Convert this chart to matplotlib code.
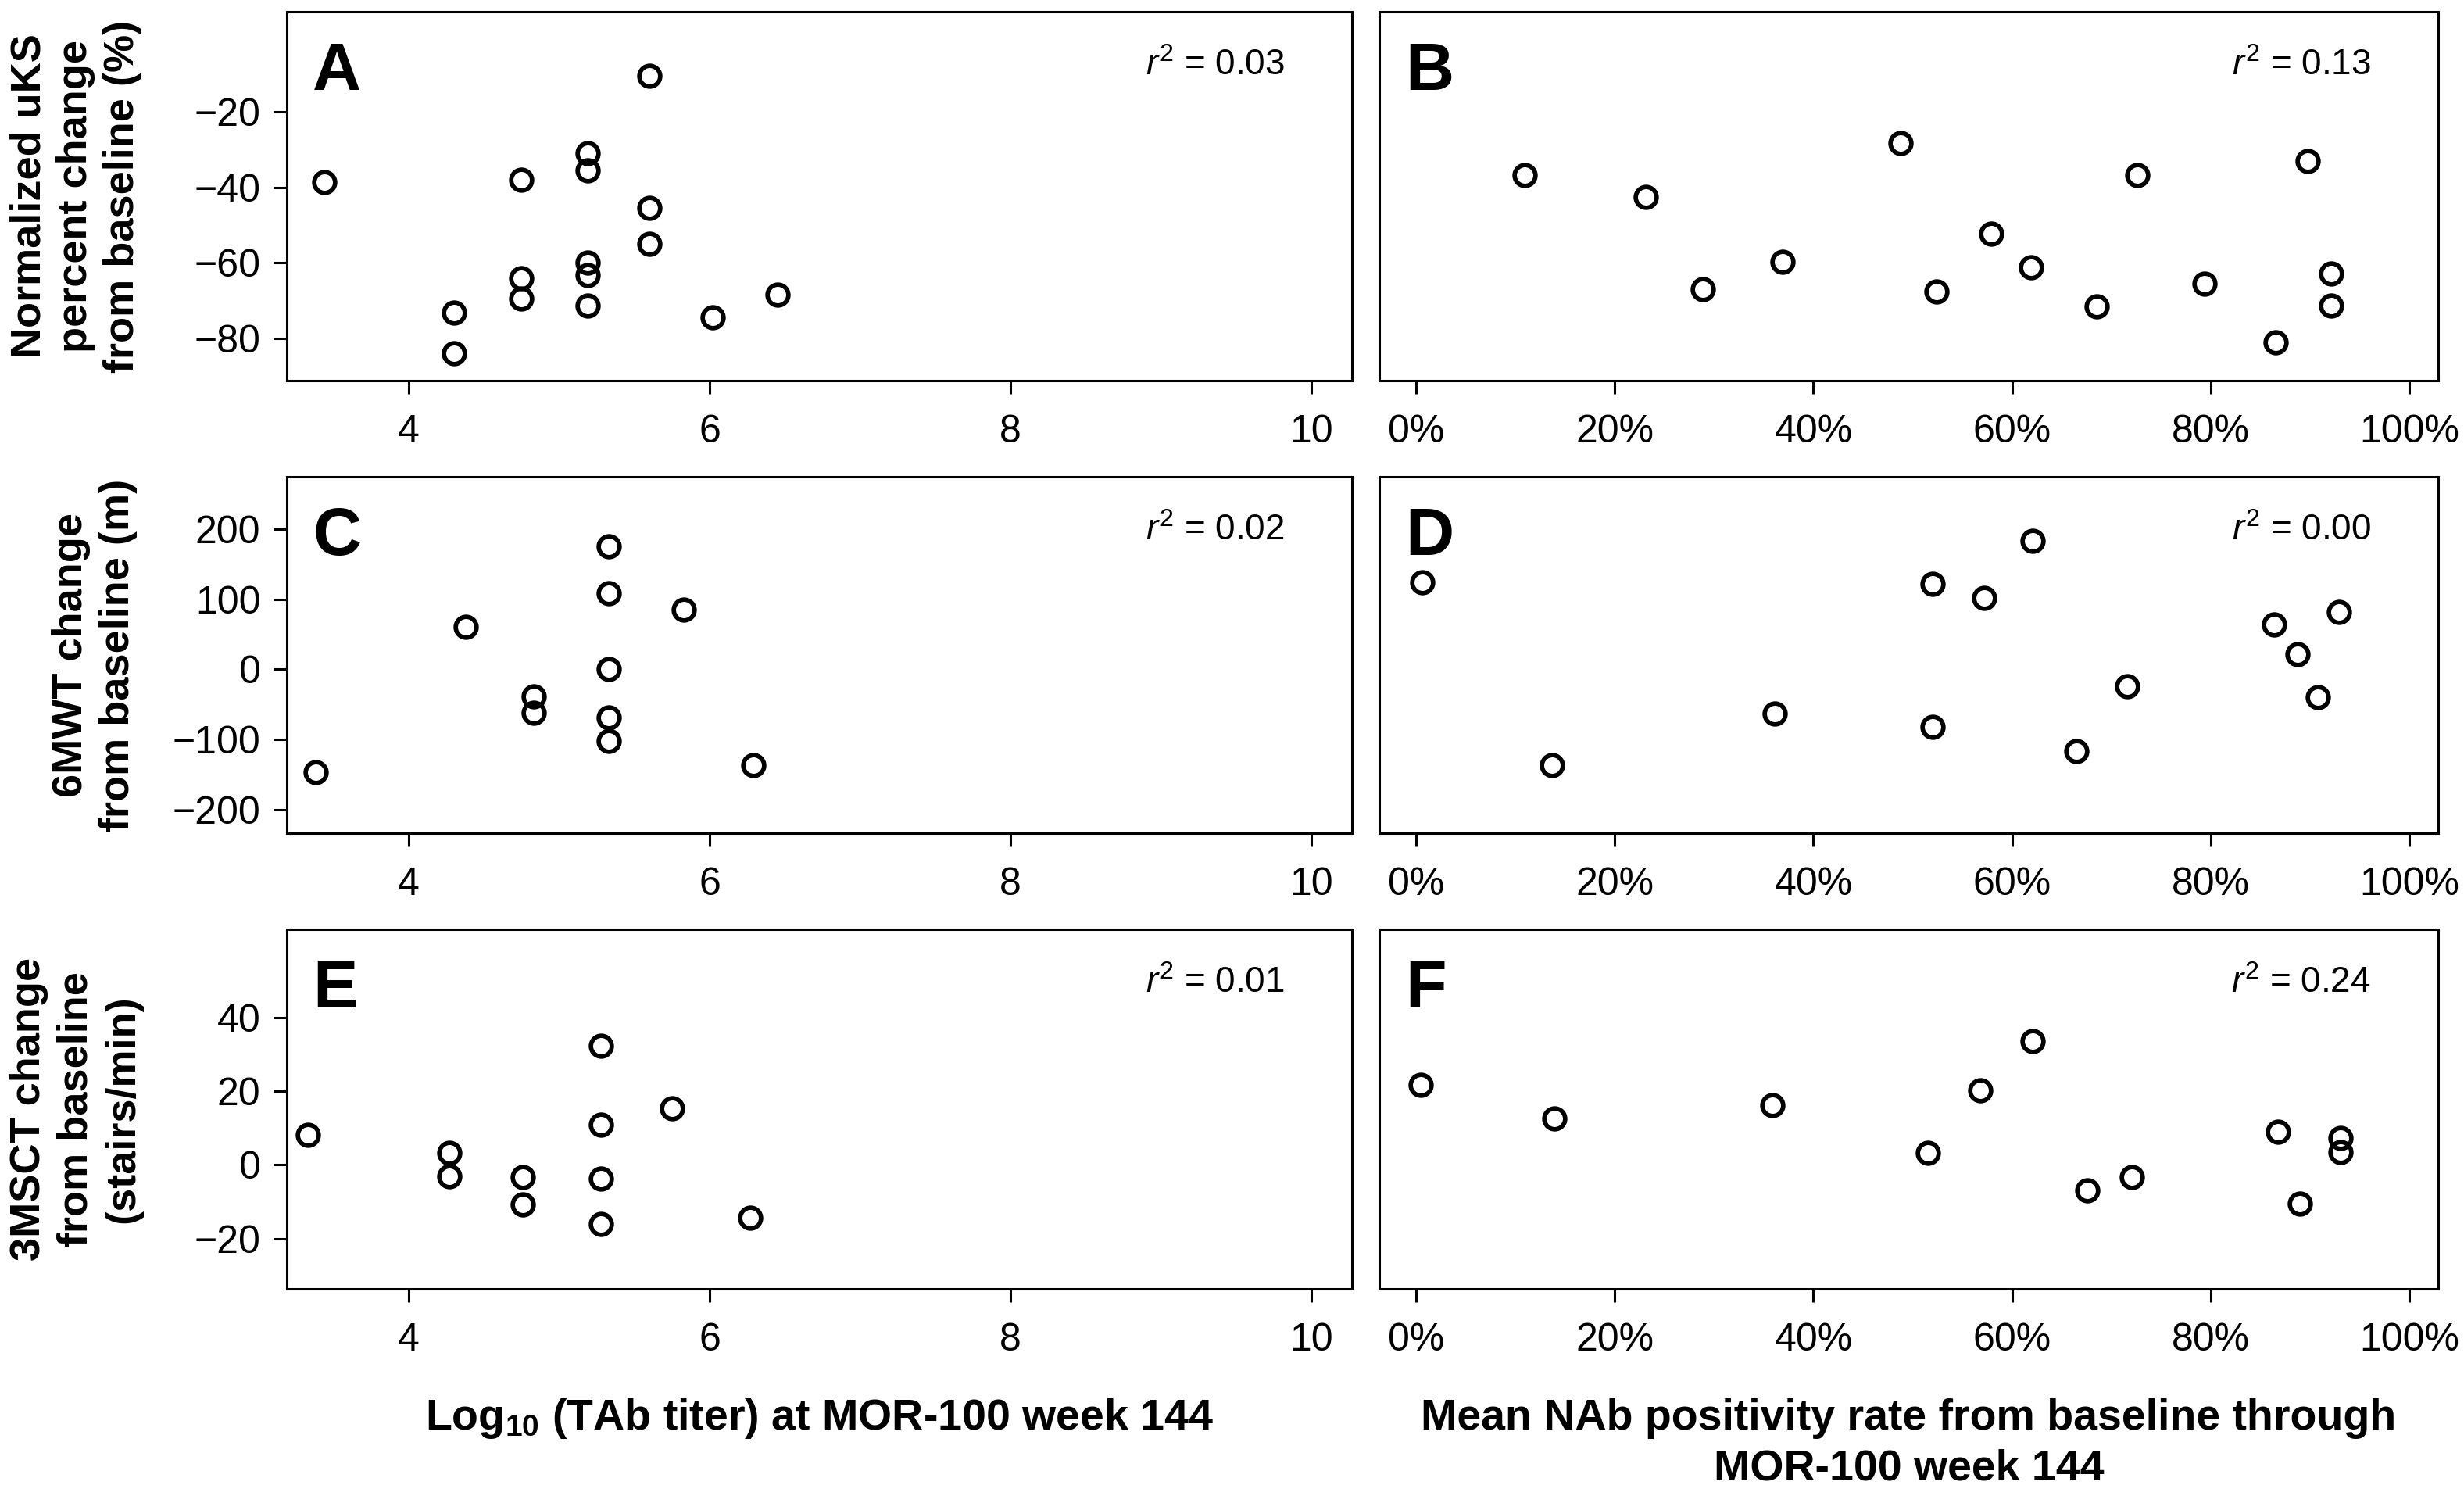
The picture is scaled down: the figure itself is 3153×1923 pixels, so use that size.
import matplotlib
matplotlib.use("Agg")
import matplotlib.pyplot as plt
from matplotlib.ticker import FuncFormatter

plt.rcParams["font.family"] = ["Liberation Sans", "DejaVu Sans"]
plt.rcParams["mathtext.fontset"] = "custom"
plt.rcParams["mathtext.rm"] = "Liberation Sans"
plt.rcParams["mathtext.it"] = "Liberation Sans:italic"
plt.rcParams["mathtext.bf"] = "Liberation Sans:bold"

# A: log10 TAb titer vs normalized uKS % change
A_x = [3.44, 4.30, 4.30, 4.75, 4.75, 4.75, 5.19, 5.19, 5.19, 5.19, 5.19, 5.60, 5.60, 5.60, 6.02, 6.45]
A_y = [-38.7, -73.1, -84.0, -38.1, -64.0, -69.5, -30.9, -35.6, -60.0, -63.3, -71.4, -10.5, -45.4, -54.9, -74.4, -68.4]
# B: NAb positivity rate (%) vs normalized uKS % change
B_x = [10.9, 23.1, 28.9, 36.9, 48.8, 52.4, 57.9, 61.9, 68.5, 72.6, 79.4, 86.5, 89.8, 92.1, 92.1]
B_y = [-36.7, -42.6, -66.9, -59.8, -28.3, -67.6, -52.2, -61.1, -71.6, -36.7, -65.6, -81.1, -33.1, -62.8, -71.4]
# C: log10 TAb titer vs 6MWT change
C_x = [3.38, 4.38, 4.83, 4.83, 5.33, 5.33, 5.33, 5.33, 5.33, 5.83, 6.29]
C_y = [-146.4, 61.0, -38.7, -62.6, 175.5, 108.9, 0.0, -68.6, -102.5, 84.9, -136.4]
# D: NAb positivity rate vs 6MWT change
D_x = [0.6, 13.7, 36.1, 52.0, 52.0, 57.2, 62.1, 66.5, 71.6, 86.4, 88.7, 90.8, 92.9]
D_y = [124.8, -136.4, -63.4, 121.6, -82.6, 101.7, 183.9, -116.5, -24.7, 63.8, 21.9, -39.9, 81.8]
# E: log10 TAb titer vs 3MSCT change
E_x = [3.33, 4.27, 4.27, 4.76, 4.76, 5.28, 5.28, 5.28, 5.28, 5.75, 6.27]
E_y = [8.1, 3.3, -3.0, -3.4, -10.7, 32.4, 10.9, -3.7, -16.0, 15.5, -14.4]
# F: NAb positivity rate vs 3MSCT change
F_x = [0.5, 13.9, 35.9, 51.5, 56.8, 62.1, 67.6, 72.1, 86.75, 89.0, 93.1, 93.1]
F_y = [21.8, 12.7, 16.3, 3.2, 20.3, 33.7, -7.0, -3.2, 9.0, -10.6, 7.3, 3.6]

r2_texts = ["0.03", "0.13", "0.02", "0.00", "0.01", "0.24"]
letters = ["A", "B", "C", "D", "E", "F"]

row_ylims = [(-91.2, 6.5), (-234, 275), (-33.7, 64.1)]
row_yticks = [[-80, -60, -40, -20], [-200, -100, 0, 100, 200], [-20, 0, 20, 40]]
row_ylabels = ["Normalized uKS\npercent change\nfrom baseline (%)",
               "6MWT change\nfrom baseline (m)",
               "3MSCT change\nfrom baseline\n(stairs/min)"]
row_labelpad = [24, 16, 24]

titer_ticks = [4, 6, 8, 10]
nab_ticks = [0, 20, 40, 60, 80, 100]

W, H = 3153, 1923
fig = plt.figure(figsize=(W / 200, H / 200), dpi=200)

col_lr = [(367, 1730), (1765, 3120)]
row_tb = [(15, 487), (610, 1066), (1189, 1649)]

data = [(A_x, A_y), (B_x, B_y), (C_x, C_y), (D_x, D_y), (E_x, E_y), (F_x, F_y)]

for i in range(6):
    r, c = i // 2, i % 2
    l, rr = col_lr[c]
    t, b = row_tb[r]
    ax = fig.add_axes([l / W, 1 - b / H, (rr - l) / W, (b - t) / H])
    x, y = data[i]
    ax.plot(x, y, "o", ms=9.6, mfc="none", mec="black", mew=2.05, ls="none")
    ax.set_ylim(*row_ylims[r])
    for s in ax.spines.values():
        s.set_linewidth(1.1)
    ax.tick_params(direction="out", length=6.1, width=1.1, labelsize=18, colors="black")
    ax.tick_params(axis="x", pad=9.5)
    ax.tick_params(axis="y", pad=6)
    if c == 0:
        ax.set_xlim(3.19, 10.27)
        ax.set_xticks(titer_ticks)
        ax.set_yticks(row_yticks[r])
        ax.set_ylabel(row_ylabels[r], fontsize=19.5, fontweight="bold",
                      multialignment="center", linespacing=1.25,
                      labelpad=row_labelpad[r])
    else:
        ax.set_xlim(-3.7, 102.9)
        ax.set_xticks(nab_ticks)
        ax.xaxis.set_major_formatter(FuncFormatter(lambda v, p: f"{v:.0f}%"))
        ax.tick_params(axis="y", left=False, labelleft=False)
    ax.annotate(letters[i], xy=(0, 1), xycoords="axes fraction", xytext=(12.0, -36),
                textcoords="offset points", ha="left", va="baseline",
                fontsize=31, fontweight="bold")
    ax.annotate(r"$r^2$ = " + r2_texts[i], xy=(1, 1), xycoords="axes fraction",
                xytext=(-31, -29), textcoords="offset points", ha="right",
                va="baseline", fontsize=16.5)

fig.text((367 + 1730) / 2 / W, 1 - 1829 / H, r"Log$_{\mathbf{10}}$ (TAb titer) at MOR-100 week 144",
         ha="center", va="baseline", fontsize=20, fontweight="bold")
fig.text((1765 + 3120) / 2 / W, 1 - 1894 / H,
         "Mean NAb positivity rate from baseline through\nMOR-100 week 144",
         ha="center", va="baseline", multialignment="center", fontsize=20,
         fontweight="bold", linespacing=1.33)

fig.savefig("out.png", dpi=200)
